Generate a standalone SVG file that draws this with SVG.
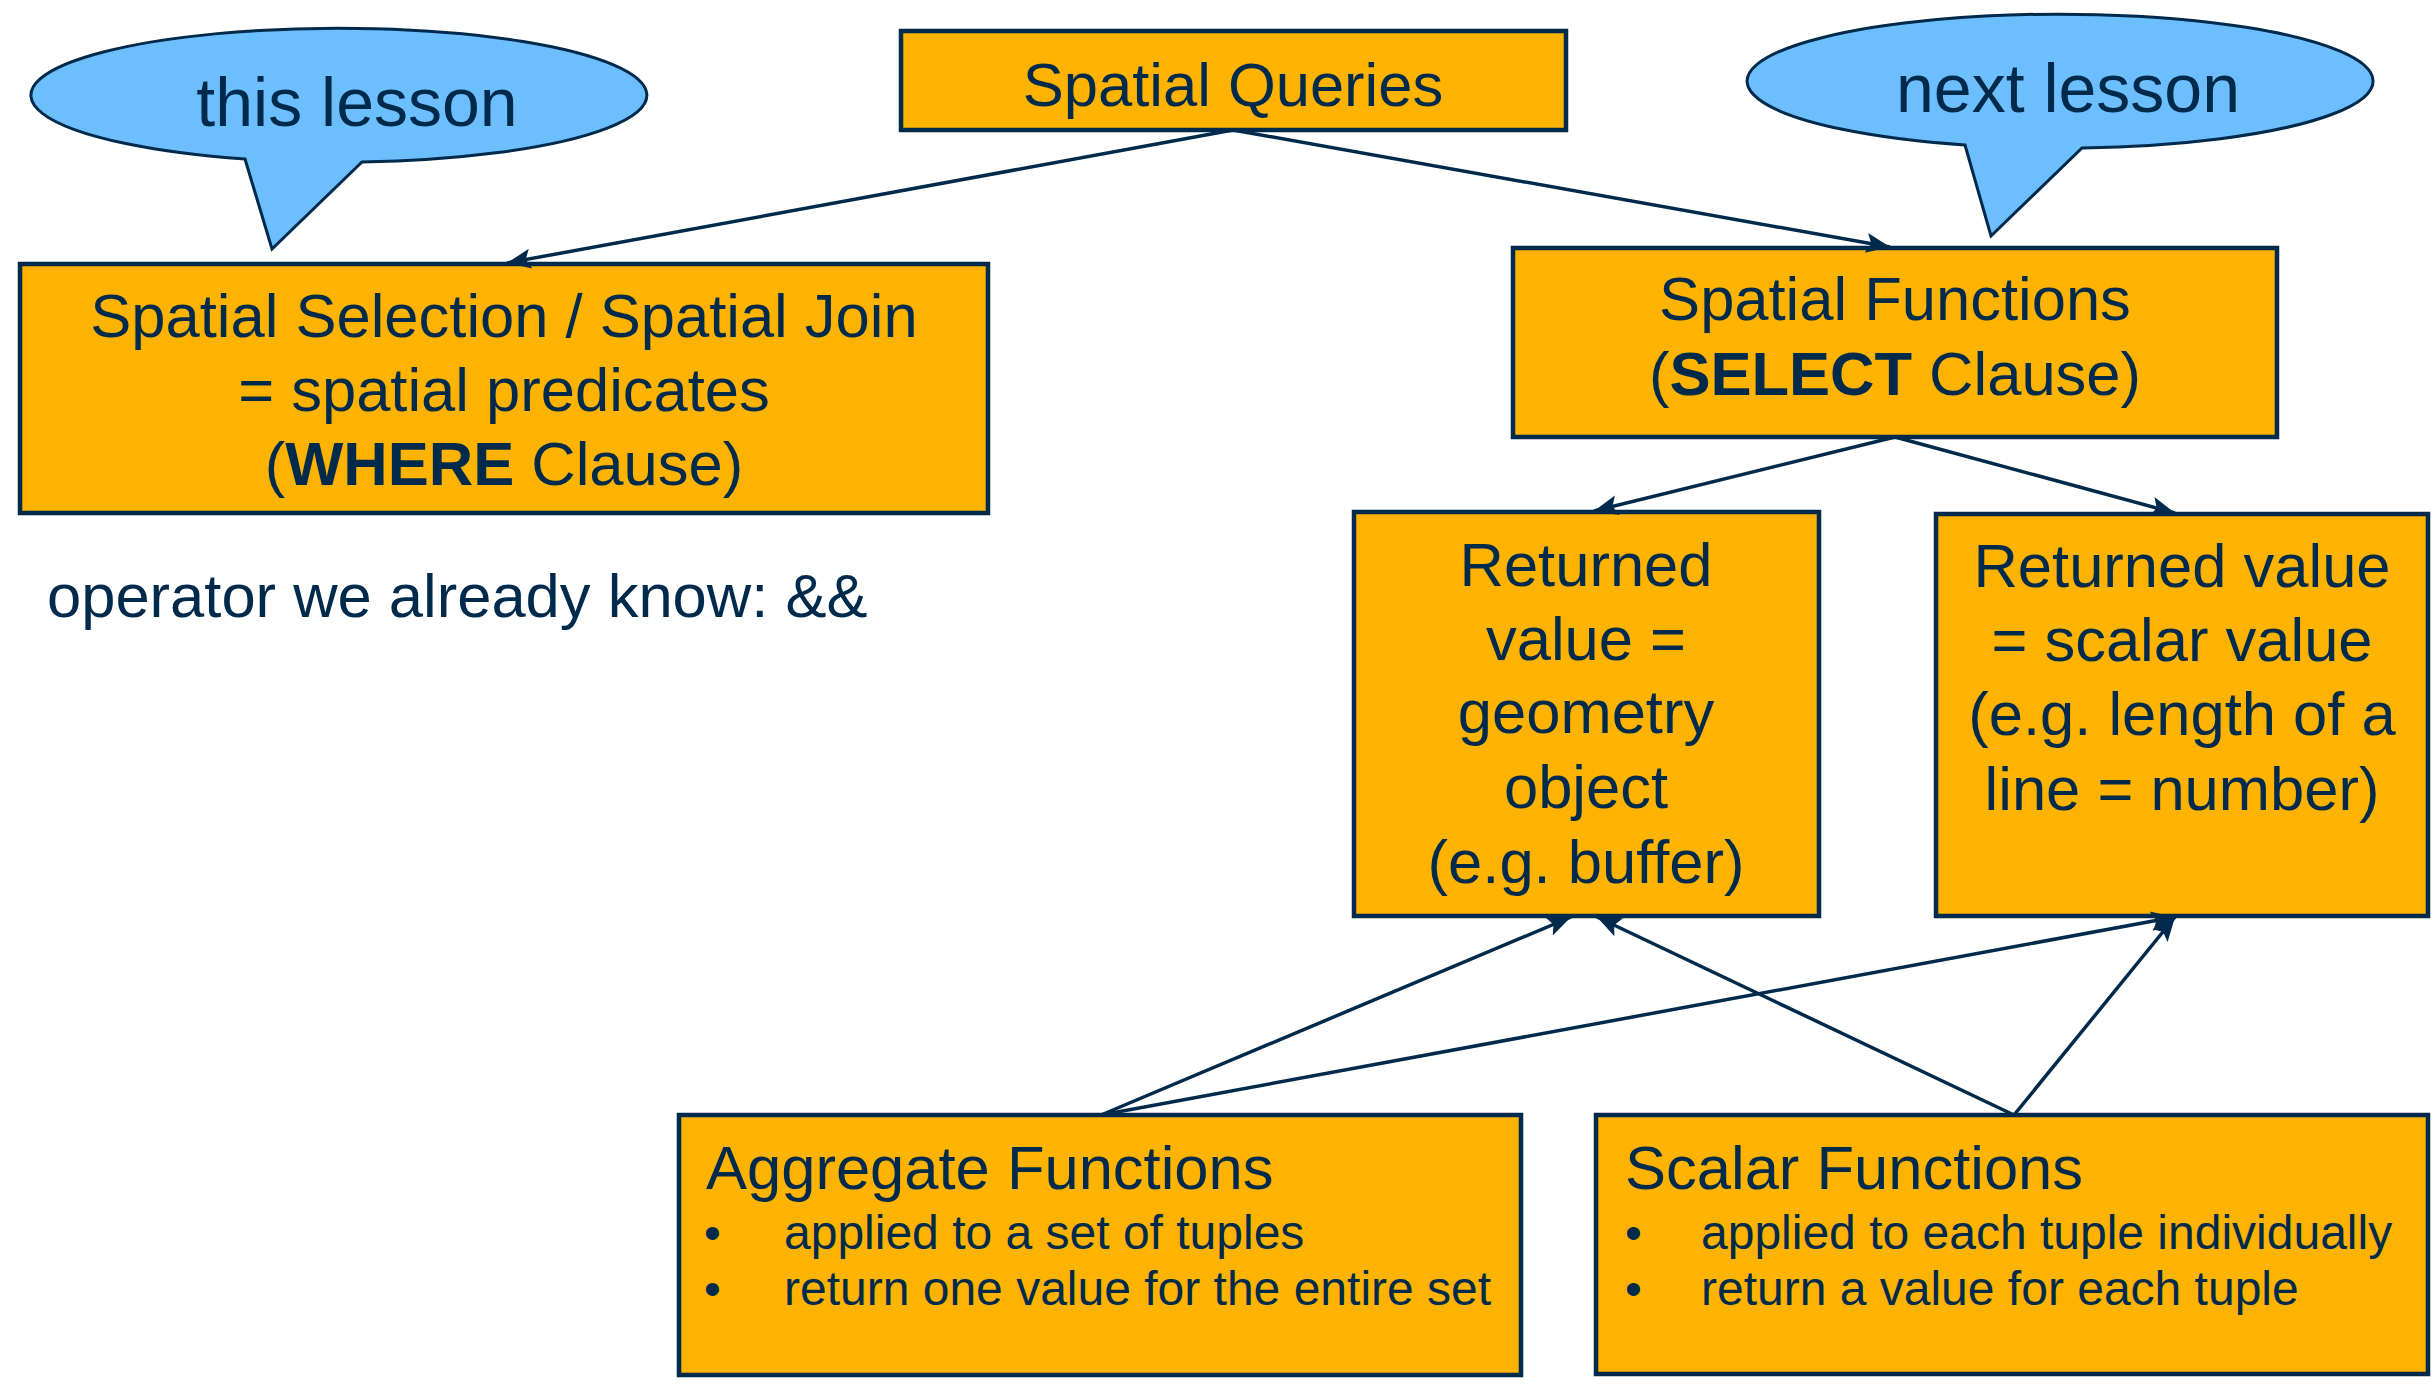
<svg xmlns="http://www.w3.org/2000/svg" width="2433" height="1389" viewBox="0 0 2433 1389">
<style>
.box{fill:#FDB300;stroke:#002A4B;stroke-width:4.5}
.bubble{fill:#6DBEFD;stroke:#002A4B;stroke-width:3}
.t{font-family:"Liberation Sans",Arial,sans-serif;font-size:61.5px;fill:#002A4B}
.c{text-anchor:middle}
.big{font-size:68px}
.small{font-size:48px}
.b{font-weight:bold}
.conn{stroke:#002A4B;stroke-width:3.5;fill:none;marker-end:url(#arr)}
</style>
<defs>
<marker id="arr" markerUnits="userSpaceOnUse" markerWidth="26" markerHeight="24" refX="24" refY="12" orient="auto">
<path d="M0,2 L24,12 L0,22 L5,12 z" fill="#002A4B"/>
</marker>
</defs>
<rect width="2433" height="1389" fill="#FFFFFF"/>

<g id="this-lesson">
<path class="bubble" d="M245,159 A308,67 0 1 1 362,162 L272,249 Z"/>
<text class="t big c" x="357" y="126">this lesson</text>
</g>

<g id="next-lesson">
<path class="bubble" d="M1965,145 A313,67 0 1 1 2082,148 L1991,236 Z"/>
<text class="t big c" x="2068" y="112">next lesson</text>
</g>

<g id="spatial-queries">
<rect class="box" x="901" y="31" width="665" height="99"/>
<text class="t c" x="1233" y="106">Spatial Queries</text>
</g>

<g id="spatial-selection">
<rect class="box" x="20" y="264" width="968" height="249"/>
<text class="t c" x="504" y="337">Spatial Selection / Spatial Join</text>
<text class="t c" x="504" y="411">= spatial predicates</text>
<text class="t c" x="504" y="485">(<tspan class="b">WHERE</tspan> Clause)</text>
</g>

<g id="operator-note">
<text class="t" x="47" y="617">operator we already know: &amp;&amp;</text>
</g>

<g id="spatial-functions">
<rect class="box" x="1513" y="248" width="764" height="189"/>
<text class="t c" x="1895" y="320">Spatial Functions</text>
<text class="t c" x="1895" y="395">(<tspan class="b">SELECT</tspan> Clause)</text>
</g>

<g id="returned-geometry">
<rect class="box" x="1354" y="512" width="465" height="404"/>
<text class="t c" x="1586" y="586">Returned</text>
<text class="t c" x="1586" y="660">value =</text>
<text class="t c" x="1586" y="733">geometry</text>
<text class="t c" x="1586" y="808">object</text>
<text class="t c" x="1586" y="883">(e.g. buffer)</text>
</g>

<g id="returned-scalar">
<rect class="box" x="1936" y="514" width="492" height="402"/>
<text class="t c" x="2182" y="587">Returned value</text>
<text class="t c" x="2182" y="661">= scalar value</text>
<text class="t c" x="2182" y="735">(e.g. length of a</text>
<text class="t c" x="2182" y="810">line = number)</text>
</g>

<g id="aggregate-functions">
<rect class="box" x="679" y="1115" width="842" height="260"/>
<text class="t" x="706" y="1189">Aggregate Functions</text>
<text class="t small" x="704" y="1249">•</text>
<text class="t small" x="784" y="1249">applied to a set of tuples</text>
<text class="t small" x="704" y="1305">•</text>
<text class="t small" x="784" y="1305">return one value for the entire set</text>
</g>

<g id="scalar-functions">
<rect class="box" x="1596" y="1115" width="832" height="259"/>
<text class="t" x="1625" y="1189">Scalar Functions</text>
<text class="t small" x="1625" y="1249">•</text>
<text class="t small" x="1701" y="1249">applied to each tuple individually</text>
<text class="t small" x="1625" y="1305">•</text>
<text class="t small" x="1701" y="1305">return a value for each tuple</text>
</g>

<g id="connectors">
<line class="conn" x1="1233" y1="130" x2="507" y2="263"/>
<line class="conn" x1="1233" y1="130" x2="1890" y2="247"/>
<line class="conn" x1="1895" y1="437" x2="1594" y2="511"/>
<line class="conn" x1="1895" y1="437" x2="2175" y2="513"/>
<line class="conn" x1="1101" y1="1115" x2="1571" y2="917"/>
<line class="conn" x1="1101" y1="1115" x2="2175" y2="917"/>
<line class="conn" x1="2014" y1="1115" x2="1597" y2="917"/>
<line class="conn" x1="2014" y1="1115" x2="2175" y2="917"/>
</g>
</svg>
